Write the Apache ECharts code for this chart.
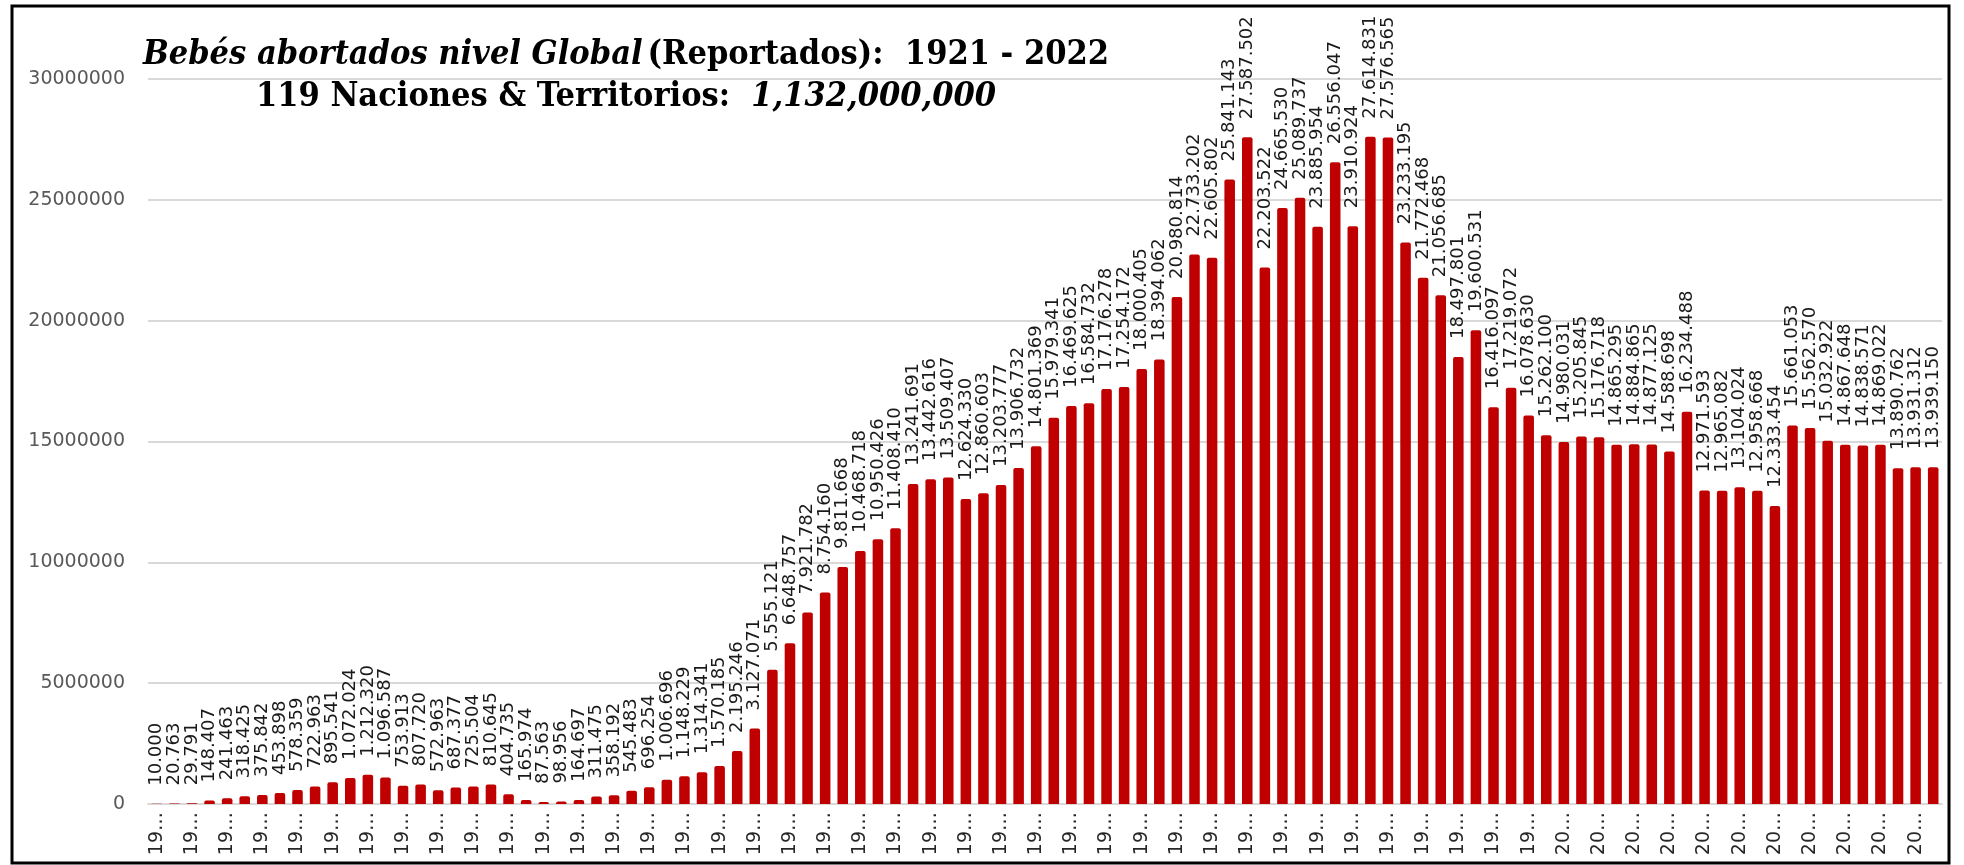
<!DOCTYPE html>
<html>
<head>
<meta charset="utf-8">
<script src="https://cdn.jsdelivr.net/npm/echarts@6/dist/echarts.min.js"></script>
<style>
    html, body { margin: 0; padding: 0; background: #fff; }
    #chart { width: 1964px; height: 865px; }
</style>
</head>
<body>
<div id="chart"></div>
<script>
    // Years 1921 - 2022
    const years = [];
    for (let y = 1921; y <= 2022; y++) years.push(String(y));

    const abortions = [
        10000, 20763, 29791, 148407, 241463, 318425, 375842, 453898, 578359, 722963,
        895541, 1072024, 1212320, 1096587, 753913, 807720, 572963, 687377, 725504, 810645,
        404735, 165974, 87563, 98956, 164697, 311475, 358192, 545483, 696254, 1006696,
        1148229, 1314341, 1570185, 2195246, 3127071, 5555121, 6648757, 7921782, 8754160, 9811668,
        10468718, 10950426, 11408410, 13241691, 13442616, 13509407, 12624330, 12860603, 13203777, 13906732,
        14801369, 15979341, 16469625, 16584732, 17176278, 17254172, 18000405, 18394062, 20980814, 22733202,
        22605802, 25841143, 27587502, 22203522, 24665530, 25089737, 23885954, 26556047, 23910924, 27614831,
        27576565, 23233195, 21772468, 21056685, 18497801, 19600531, 16416097, 17219072, 16078630, 15262100,
        14980031, 15205845, 15176718, 14865295, 14884865, 14877125, 14588698, 16234488, 12971593, 12965082,
        13104024, 12958668, 12333454, 15661053, 15562570, 15032922, 14867648, 14838571, 14869022, 13890762,
        13931312, 13939150
    ];

    const yTicks = { min: 0, max: 30000000, interval: 5000000 };

    function dotted(n) {
        return String(n).replace(/\B(?=(\d{3})+(?!\d))/g, '.');
    }

    const chart = echarts.init(document.getElementById('chart'));
    const option = {
        animation: false,
        backgroundColor: '#ffffff',
        title: {
            left: 621,
            textAlign: 'center',
            top: 29,
            text: '{i|Bebés abortados nivel Global} {b|(Reportados):  1921 - 2022}\n{b|119 Naciones & Territorios:  }{i|1,132,000,000}',
            textStyle: {
                rich: {
                    i: { fontFamily: 'DejaVu Serif Condensed, DejaVu Serif', fontStyle: 'italic', fontWeight: 'bold', fontSize: 34, color: '#000', lineHeight: 42 },
                    b: { fontFamily: 'DejaVu Serif Condensed, DejaVu Serif', fontWeight: 'bold', fontSize: 34, color: '#000', lineHeight: 42 }
                }
            }
        },
        graphic: [
            {
                type: 'rect',
                shape: { x: 12, y: 6, width: 1937, height: 857 },
                style: { fill: 'none', stroke: '#000', lineWidth: 3 },
                z: 100
            }
        ],
        grid: { left: 148, right: 22, top: 79, bottom: 61 },
        xAxis: {
            type: 'category',
            data: years,
            axisLine: { lineStyle: { color: '#d9d9d9', width: 2 } },
            axisTick: { show: false },
            axisLabel: {
                interval: 1,
                rotate: 90,
                margin: 8,
                fontFamily: 'DejaVu Sans',
                fontSize: 19,
                color: '#262626',
                // year labels are cut short, as in the source chart
                formatter: v => v.slice(0, 2) + '…'
            }
        },
        yAxis: {
            type: 'value',
            min: yTicks.min,
            max: yTicks.max,
            interval: yTicks.interval,
            axisLine: { show: false },
            axisTick: { show: false },
            axisLabel: {
                margin: 23,
                fontFamily: 'DejaVu Sans',
                fontSize: 19,
                color: '#595959',
                formatter: v => String(v)
            },
            splitLine: { lineStyle: { color: '#d9d9d9', width: 2 } }
        },
        series: [
            {
                type: 'bar',
                data: abortions,
                barWidth: '60%',
                itemStyle: { color: '#c00000', borderRadius: [2, 2, 0, 0] },
                label: {
                    show: true,
                    position: 'top',
                    rotate: 90,
                    align: 'left',
                    verticalAlign: 'middle',
                    distance: 18,
                    fontFamily: 'DejaVu Sans',
                    fontSize: 18,
                    color: '#1a1a1a',
                    formatter: p => dotted(p.value)
                }
            }
        ]
    };
    chart.setOption(option);
</script>
</body>
</html>
